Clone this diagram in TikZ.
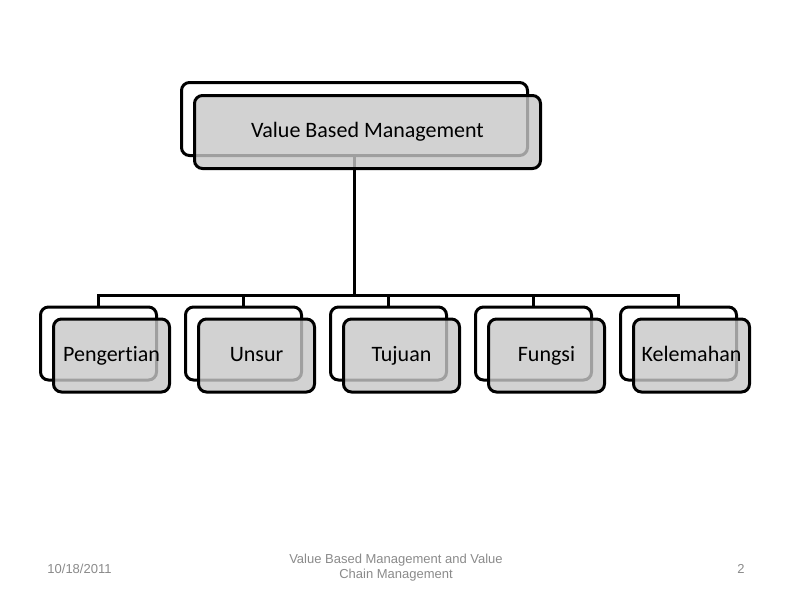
\documentclass[tikz,border=0pt]{standalone}
\usepackage{fontspec}
\setmainfont{Carlito}[Ligatures=NoCommon]
\newfontfamily\footfont{Liberation Sans}
\usetikzlibrary{backgrounds}
\begin{document}
\begin{tikzpicture}[
            x=1pt, y=-1pt,
            backbox/.style={draw=black, line width=3pt, rounded corners=8pt, fill=white,
                    minimum height=73pt, inner sep=0pt},
            frontbox/.style={backbox, fill=black!22, fill opacity=0.8, text opacity=1,
                    text height=15pt, text depth=4pt, font=\fontsize{22}{26}\selectfont},
            conn/.style={line width=3pt},
            footer/.style={font=\footfont\fontsize{13}{15}\selectfont, text=black!46, align=center}
        ]
        \useasboundingbox (0,0) rectangle (794,595);
        \node[backbox, minimum width=346pt] (vbm) at (354.5,119) {};
        \node[frontbox, minimum width=346pt] (vbm-f) at ([shift={(13,13)}]vbm.center) {Value Based Management};
        \foreach \name/\txt [count=\i from 0] in {pen/Pengertian, uns/Unsur, tuj/Tujuan, fun/Fungsi, kel/Kelemahan} {
            \node[backbox, minimum width=116pt] (\name) at (98.5+145*\i,343.5) {};
            \node[frontbox, minimum width=116pt] (\name-f) at ([shift={(13,12)}]\name.center) {\txt};
            \begin{scope}[on background layer]
                \draw[conn] (vbm.south) -- ++(0,138.5) -| (\name.north);
            \end{scope}
        }
        \node[footer] (date) at (79.5,569) {10/18/2011};
        \node[footer] (title) at (396,567.5) {Value Based Management and Value\\Chain Management};
        \node[footer] (page) at (741,569) {2};
    \end{tikzpicture}
\end{document}
